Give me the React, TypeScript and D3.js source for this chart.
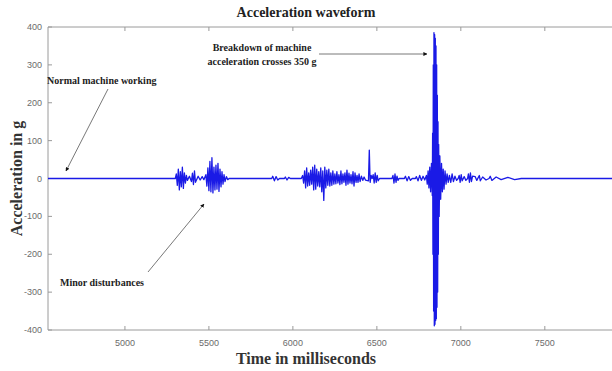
import React from "react";
import * as d3 from "d3";

const W = 612;
const H = 371;

const xTicks = [5000, 5500, 6000, 6500, 7000, 7500];
const yTicks = [-400, -300, -200, -100, 0, 100, 200, 300, 400];

// waveform samples (time in ms, acceleration in g)
const sampleTimes = [
  4542, 5300, 5306, 5312, 5318, 5324, 5330, 5336, 5342, 5348, 5354, 5360, 5366, 5372, 5384, 5396,
  5402, 5408, 5414, 5420, 5436, 5448, 5460, 5470,
  5482, 5488, 5494, 5500, 5506, 5512, 5518, 5524, 5530, 5536, 5542, 5548, 5554, 5560, 5566, 5572,
  5578, 5584, 5590, 5596, 5604, 5612, 5620,
  5874, 5880, 5890, 5900, 5910, 5920, 5950, 5955, 5965, 5975, 5985,
  6050, 6058, 6064, 6070, 6076, 6082, 6088, 6094, 6100, 6106, 6112, 6118, 6124, 6130, 6136, 6142,
  6148, 6154, 6160, 6166, 6172, 6178, 6184, 6190, 6196, 6202, 6208, 6214, 6220, 6226, 6232, 6238, 6244,
  6250, 6256, 6262, 6268, 6274, 6280, 6286, 6292, 6298, 6304, 6310, 6316, 6322, 6328, 6334, 6340,
  6346, 6352, 6358, 6364, 6370, 6376, 6382, 6388, 6394, 6400, 6408, 6416, 6424, 6432,
  6450, 6455, 6460, 6466, 6472,
  6478, 6484, 6490, 6496, 6502, 6508, 6516,
  6590, 6596, 6602, 6608, 6614, 6620, 6626, 6632,
  6664, 6670, 6680, 6690, 6700, 6710,
  6730, 6735, 6745, 6755, 6765, 6775, 6785,
  6795, 6800, 6805, 6810, 6815, 6820, 6825, 6830, 6832, 6834, 6836, 6838, 6840, 6842, 6844, 6846,
  6848, 6850, 6852, 6854, 6856, 6858, 6860, 6862, 6864, 6866, 6868, 6871, 6875, 6880, 6885, 6890,
  6895, 6900, 6906, 6912, 6918,
  6925, 6932, 6940, 6948, 6956, 6965, 6975, 6984, 6990, 6996, 7002, 7008, 7020, 7030, 7040, 7045,
  7051, 7057, 7063, 7070, 7085, 7095, 7110, 7116, 7130, 7150, 7168, 7175, 7185, 7210, 7240, 7280,
  7320, 7360, 7900,
];
const sampleValues = [
  0, 0, 12, -18, 25, -30, 18, -22, 30, -26, 15, -12, 8, -5, 6, -8,
  14, -16, 20, -10, 6, -4, 5, -3,
  10, -20, 28, -32, 45, -35, 55, -38, 30, -30, 35, -28, 40, -34, 25, -22,
  18, -15, 10, -8, 5, -3, 0,
  0, 6, -6, 5, -4, 0, 0, 4, -4, 3, 0,
  0, 8, -12, 20, -25, 28, -20, 15, -18, 22, -15, 30, -30, 35, -28, 25,
  -20, 18, -22, 28, -35, 20, -58, 30, -25, 22, -18, 25, -20, 15, -18, 20, -15,
  12, -14, 18, -12, 10, -16, 20, -14, 12, -10, 15, -18, 22, -15, 14, -12,
  10, -14, 18, -20, 15, -10, 8, -10, 12, -8, 6, -5, 4, -4,
  -6, 75, -10, 8, 0,
  10, -12, 15, -10, 8, -6, 0,
  0, 8, -12, 12, -10, 6, -5, 0,
  0, 6, -6, 5, -5, 0,
  0, 5, -6, 8, -5, 6, -4,
  8, -15, 20, -25, 30, -35, 40, -45, 120, -200, 300, -350, 385, -389, 380, -385,
  370, -375, 350, -370, 300, -340, 220, -300, 150, -200, 90, -100, 60, -55, 40, -35,
  25, -28, 20, -15, 12,
  -10, 8, -10, 12, -8, 6, -5, 0, 8, -10, 10, -6, 5, -5, 0, 12,
  -10, 15, -8, 6, 5, -5, 8, -6, 4, -4, 0, 6, -5, 4, -3, 3,
  -3, 0, 0,
];

const margin = { left: 48, top: 27, bottom: 330 };

export default function App() {
  const x = d3.scaleLinear().domain([4542, 7900]).range([margin.left, 612]);
  const y = d3.scaleLinear().domain([-400, 400]).range([margin.bottom, margin.top]);

  const pts: [number, number][] = sampleTimes.map((t, i) => [t, sampleValues[i]]);
  const line = d3
    .line<[number, number]>()
    .x((d) => x(d[0]))
    .y((d) => y(d[1]));

  const axisColor = "#9a9a9a";
  const tickColor = "#6b6b6b";
  const serif = "'Liberation Serif', 'DejaVu Serif', serif";
  const sans = "'Liberation Sans', Arial, sans-serif";

  return (
    <svg width={W} height={H} style={{ display: "block", position: "absolute", left: 0, top: 0, background: "#fff" }}>
      <defs>
        <marker id="ah" viewBox="0 0 10 10" refX="9" refY="5" markerWidth="5" markerHeight="5" orient="auto-start-reverse">
          <path d="M0,0 L10,5 L0,10 z" fill="#111" />
        </marker>
      </defs>
      <rect x={0} y={0} width={W} height={H} fill="#fff" />
      {/* axes frame */}
      <line x1={margin.left} x2={612} y1={margin.top} y2={margin.top} stroke={axisColor} strokeWidth={1} />
      <line x1={margin.left} x2={612} y1={margin.bottom} y2={margin.bottom} stroke={axisColor} strokeWidth={1} />
      <line x1={margin.left} x2={margin.left} y1={margin.top} y2={margin.bottom} stroke={axisColor} strokeWidth={1} />
      {xTicks.map((t) => (
        <g key={"x" + t}>
          <line x1={x(t)} x2={x(t)} y1={margin.bottom} y2={margin.bottom - 4} stroke={axisColor} />
          <line x1={x(t)} x2={x(t)} y1={margin.top} y2={margin.top + 4} stroke={axisColor} />
          <text x={x(t)} y={margin.bottom + 16} textAnchor="middle" fontFamily={sans} fontSize={9} fill={tickColor}>
            {t}
          </text>
        </g>
      ))}
      {yTicks.map((t) => (
        <g key={"y" + t}>
          <line x1={margin.left} x2={margin.left + 4} y1={y(t)} y2={y(t)} stroke={axisColor} />
          <text x={margin.left - 6} y={y(t) + 3} textAnchor="end" fontFamily={sans} fontSize={9} fill={tickColor}>
            {t}
          </text>
        </g>
      ))}
      {/* waveform */}
      <path d={line(pts) || ""} fill="none" stroke="#1a1ae6" strokeWidth={1.3} strokeLinejoin="round" />
      {/* titles */}
      <text x={306} y={17} textAnchor="middle" fontFamily={serif} fontWeight="bold" fontSize={14} fill="#222">
        Acceleration waveform
      </text>
      <text x={306} y={364} textAnchor="middle" fontFamily={serif} fontWeight="bold" fontSize={16} fill="#333">
        Time in milliseconds
      </text>
      <text
        transform={`translate(22,${(margin.top + margin.bottom) / 2}) rotate(-90)`}
        textAnchor="middle"
        fontFamily={serif}
        fontWeight="bold"
        fontSize={16}
        fill="#333"
      >
        Acceleration in g
      </text>
      {/* annotations */}
      <text x={47} y={84} fontFamily={serif} fontWeight="bold" fontSize={10} fill="#222">
        Normal machine working
      </text>
      <line x1={108} y1={89} x2={66} y2={171} stroke="#555" strokeWidth={0.8} markerEnd="url(#ah)" />
      <text x={60} y={286} fontFamily={serif} fontWeight="bold" fontSize={10} fill="#222">
        Minor disturbances
      </text>
      <line x1={148} y1={272} x2={204} y2={204} stroke="#555" strokeWidth={0.8} markerEnd="url(#ah)" />
      <text x={262} y={51} textAnchor="middle" fontFamily={serif} fontWeight="bold" fontSize={10} fill="#222">
        Breakdown of machine
      </text>
      <text x={262} y={65} textAnchor="middle" fontFamily={serif} fontWeight="bold" fontSize={10} fill="#222">
        acceleration crosses 350 g
      </text>
      <line x1={319} y1={54} x2={427} y2={54} stroke="#555" strokeWidth={0.8} markerEnd="url(#ah)" />
    </svg>
  );
}
